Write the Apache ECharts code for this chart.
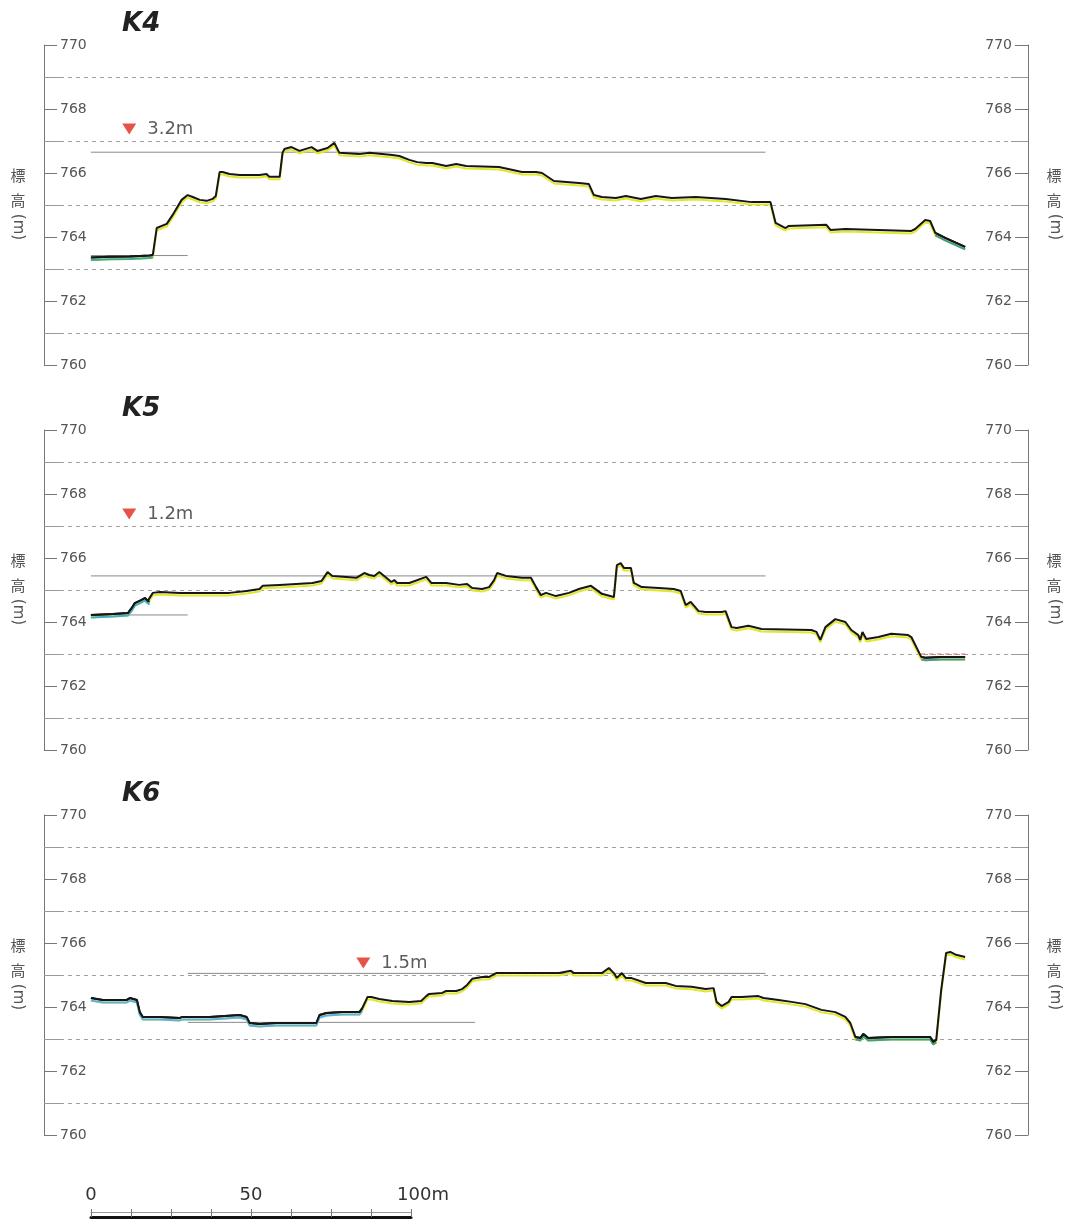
<!DOCTYPE html>
<html>
<head>
<meta charset="utf-8">
<script src="https://cdn.jsdelivr.net/npm/echarts@6/dist/echarts.min.js"></script>
<style>
  html, body { margin: 0; padding: 0; background: #fff; }
  #chart { width: 1070px; height: 1222px; }
</style>
</head>
<body>
<div id="chart"></div>
<script>
// Cross-section names, drawn top to bottom
const sections = ['K4', 'K5', 'K6'];

// Ground profiles: [distance along section (m), elevation (m)]
const profileK4 = [
  [0, 763.36], [5.9, 763.38], [12.2, 763.39], [18.4, 763.42], [19.4, 763.44], [20.6, 764.28],
  [23.75, 764.41], [25.6, 764.69], [28.4, 765.16], [30.3, 765.31], [31.9, 765.25], [34.1, 765.16],
  [36.25, 765.13], [38.1, 765.19], [39.1, 765.28], [40.3, 766.03], [41.25, 766.03], [43.4, 765.97],
  [46.6, 765.94], [52.8, 765.94], [55, 765.97], [55.9, 765.88], [59.1, 765.88], [60, 766.63],
  [60.6, 766.75], [62.8, 766.81], [65.3, 766.69], [69.1, 766.81], [70.9, 766.69], [74.1, 766.78],
  [76.25, 766.94], [77.8, 766.63], [84.1, 766.59], [87.2, 766.63], [94.4, 766.56], [96.6, 766.53],
  [99.7, 766.41], [102.2, 766.34], [105, 766.31], [106.9, 766.31], [111.25, 766.22], [114.4, 766.28],
  [117.5, 766.22], [127.8, 766.19], [135, 766.03], [139.4, 766.03], [141.25, 766.0], [145, 765.75],
  [152.8, 765.69], [155.9, 765.66], [157.5, 765.31], [160, 765.25], [164.4, 765.22], [167.5, 765.28],
  [172.2, 765.19], [176.9, 765.28], [181.9, 765.22], [189.4, 765.25], [198.75, 765.19], [206.9, 765.09],
  [212.8, 765.09], [214.4, 764.44], [217.5, 764.28], [218.4, 764.34], [230.3, 764.38], [231.6, 764.22],
  [236.25, 764.25], [246.6, 764.22], [256.9, 764.19], [258.1, 764.25], [261.25, 764.53], [262.8, 764.5],
  [264.4, 764.13], [267.5, 763.97], [273.75, 763.69]
];
const profileK5 = [
  [0, 764.22], [6.9, 764.25], [11.6, 764.28], [12.8, 764.44], [13.75, 764.59], [15.9, 764.69],
  [16.9, 764.75], [17.8, 764.66], [18.4, 764.63], [19.4, 764.91], [21.6, 764.94], [27.8, 764.91],
  [38.1, 764.91], [43.4, 764.91], [48.75, 764.97], [52.8, 765.03], [53.75, 765.13], [59.1, 765.16],
  [69.4, 765.22], [72.2, 765.28], [74.1, 765.56], [75.6, 765.44], [80, 765.41], [83.1, 765.38],
  [85.6, 765.53], [87.2, 765.47], [88.75, 765.44], [90.3, 765.56], [92.5, 765.38], [94.1, 765.25],
  [95, 765.31], [95.9, 765.22], [99.7, 765.22], [105, 765.41], [106.6, 765.22], [111.25, 765.22],
  [115.3, 765.16], [117.8, 765.19], [119.4, 765.06], [122.5, 765.03], [124.7, 765.09], [126.25, 765.31],
  [127.2, 765.53], [130, 765.44], [135, 765.38], [137.8, 765.38], [139.4, 765.09], [140.9, 764.84],
  [142.5, 764.91], [145.6, 764.81], [149.7, 764.91], [152.8, 765.03], [156.6, 765.13], [160, 764.88],
  [163.75, 764.78], [164.7, 765.78], [165.9, 765.84], [166.9, 765.69], [169.1, 765.69], [170, 765.22],
  [172.5, 765.09], [177.8, 765.06], [182.5, 765.03], [184.7, 764.97], [186.25, 764.53], [187.8, 764.63],
  [190.3, 764.34], [192.5, 764.31], [197.5, 764.31], [198.75, 764.34], [200.6, 763.84], [202.2, 763.81],
  [205.9, 763.88], [210, 763.78], [225.6, 763.75], [227.2, 763.69], [228.4, 763.44], [230, 763.84],
  [233.1, 764.09], [236.25, 764.0], [238.1, 763.75], [240.3, 763.59], [240.9, 763.44], [241.6, 763.69],
  [242.8, 763.47], [246.6, 763.53], [250.6, 763.63], [255.9, 763.59], [256.9, 763.53], [260, 762.91],
  [261.25, 762.88], [266.25, 762.91], [273.75, 762.91]
];
const profileK6 = [
  [0, 764.28], [3.75, 764.22], [11.25, 764.22], [12.2, 764.28], [14.4, 764.22], [15.3, 763.84],
  [16.25, 763.69], [21.6, 763.69], [27.8, 763.66], [28.75, 763.69], [37.2, 763.69], [46.6, 763.75],
  [48.75, 763.69], [49.7, 763.5], [52.8, 763.47], [58.1, 763.5], [63.1, 763.5], [70.6, 763.5],
  [71.6, 763.75], [73.75, 763.81], [78.75, 763.84], [84.1, 763.84], [85, 763.97], [86.6, 764.31],
  [87.8, 764.31], [90.3, 764.25], [94.4, 764.19], [99.7, 764.16], [103.4, 764.19], [105, 764.34],
  [105.9, 764.41], [110, 764.44], [111.25, 764.5], [114.4, 764.5], [116.25, 764.56], [117.8, 764.69],
  [119.4, 764.88], [122.5, 764.94], [124.7, 764.94], [126.9, 765.06], [130.9, 765.06], [136.25, 765.06],
  [146.6, 765.06], [150.3, 765.13], [151.25, 765.06], [160, 765.06], [162.2, 765.22], [163.75, 765.06],
  [164.7, 764.91], [166.25, 765.06], [167.5, 764.91], [169.1, 764.91], [173.75, 764.75], [177.8, 764.75],
  [180, 764.75], [183.1, 764.66], [188.1, 764.63], [192.5, 764.56], [195, 764.59], [195.9, 764.16],
  [197.5, 764.03], [199.7, 764.16], [200.6, 764.31], [203.75, 764.31], [209, 764.34], [210.6, 764.28],
  [215.3, 764.22], [219.4, 764.16], [223.75, 764.09], [228.75, 763.91], [233.1, 763.84], [236.25, 763.69],
  [237.8, 763.5], [239.4, 763.06], [240.9, 763.03], [241.9, 763.16], [243.4, 763.03], [250.6, 763.06],
  [255.9, 763.06], [262.8, 763.06], [263.75, 762.91], [264.7, 762.97], [266.25, 764.53], [267.8, 765.69],
  [269.1, 765.72], [270.9, 765.63], [273.75, 765.56]
];

// Stretches under water: [from (m), to (m)] and their tint
const waterK4 = [[0, 19.4], [264.4, 273.75]];
const waterK5 = [[0, 18.4], [260, 273.75]];
const waterK6 = [[0, 85], [239.4, 264.7]];
const waterTintK4 = ['#3caa94', '#3f9a88'];
const waterTintK5 = ['#3cb0c4', '#4b9a8c'];
const waterTintK6 = ['#5ab2e2', '#3fa07e'];

// Water surface shown dashed in red: [from (m), to (m), elevation (m)]
const surfaceK5 = [[260, 273.75, 763.0]];

// Reference levels (m): upper and lower, with their horizontal extents (m)
const levelsK4 = [766.65, 763.42];
const levelsK5 = [765.44, 764.22];
const levelsK6 = [765.05, 763.52];
const extentsK4 = [[0, 211.25], [0, 30.3]];
const extentsK5 = [[0, 211.25], [0, 30.3]];
const extentsK6 = [[30.3, 211.25], [30.3, 120.3]];

// Head-difference marker position: [distance (m), elevation (m)]
const markerK4 = [12.0, 767.375];
const markerK5 = [12.0, 767.375];
const markerK6 = [85.3, 765.375];

// Scale bar
const scaleBarValues = [0, 50, 100];
const scaleBarLabels = ['0', '50', '100m'];

// ---- layout ----
const ORIGIN_X = 91;          // pixel of distance 0
const PX_PER_M = 3.2;
const PLOT_LEFT = 44, PLOT_RIGHT = 1030;
const PANEL_TOPS = [45, 430, 815];
const PANEL_H = 320;
const X_MIN = (PLOT_LEFT - ORIGIN_X) / PX_PER_M;
const X_MAX = (PLOT_RIGHT - ORIGIN_X) / PX_PER_M;

const profiles = [profileK4, profileK5, profileK6];
const waters = [waterK4, waterK5, waterK6];
const waterTints = [waterTintK4, waterTintK5, waterTintK6];
const surfaces = [[], surfaceK5, []];
const levels = [levelsK4, levelsK5, levelsK6];
const extents = [extentsK4, extentsK5, extentsK6];
const markers = [markerK4, markerK5, markerK6];

const LABEL_FONT = 'DejaVu Sans';
const AXIS_GREY = '#777';

const grids = [], xAxes = [], yAxes = [], series = [], titles = [], graphics = [];

function elevAxis(i, side) {
  const left = side === 'left';
  return {
    gridIndex: i, type: 'value', position: side,
    min: 760, max: 770, interval: 2,
    axisLine: { show: true, onZero: false, lineStyle: { color: AXIS_GREY, width: 1 } },
    axisTick: { show: true, inside: true, length: 13, lineStyle: { color: AXIS_GREY } },
    minorTick: { show: true, splitNumber: 2, length: 17, lineStyle: { color: '#999' } },
    axisLabel: { inside: true, margin: 16, color: '#555', fontSize: 14, fontFamily: LABEL_FONT },
    splitLine: { show: false },
    minorSplitLine: { show: left, lineStyle: { color: '#a0a0a0', width: 1, type: [4, 4] } },
    // "(m)" set sideways beneath the upright 標高
    name: '(m)', nameLocation: 'middle', nameRotate: -90, nameGap: 19,
    nameTextStyle: { color: '#555', fontSize: 15, fontFamily: LABEL_FONT, padding: [0, 0, 0, 44] }
  };
}

sections.forEach((name, i) => {
  const top = PANEL_TOPS[i];
  grids.push({ left: PLOT_LEFT, width: PLOT_RIGHT - PLOT_LEFT, top: top, height: PANEL_H });
  xAxes.push({ gridIndex: i, type: 'value', min: X_MIN, max: X_MAX, show: false });
  yAxes.push(elevAxis(i, 'left'), elevAxis(i, 'right'));

  const base = { xAxisIndex: i, yAxisIndex: 2 * i, silent: true, animation: false };

  // reference levels
  levels[i].forEach((lvl, k) => {
    series.push(Object.assign({}, base, {
      type: 'line', symbol: 'none', z: 3,
      data: [[extents[i][k][0], lvl], [extents[i][k][1], lvl]],
      lineStyle: { color: '#8a8a8a', width: 1 }
    }));
  });

  // red dashed water surface
  surfaces[i].forEach(s => {
    series.push(Object.assign({}, base, {
      type: 'line', symbol: 'none', z: 4,
      data: [[s[0], s[2]], [s[1], s[2]]],
      lineStyle: { color: '#e05050', width: 1, type: [4, 4] }
    }));
  });

  // ground line with its yellow edge
  series.push(Object.assign({}, base, {
    type: 'line', symbol: 'none', z: 5, data: profiles[i],
    lineStyle: { color: '#161616', width: 2, shadowColor: 'rgba(226,230,30,0.95)', shadowOffsetY: 2.5, shadowBlur: 0 }
  }));

  // water stretches, tinted underneath
  waters[i].forEach((rng, k) => {
    series.push(Object.assign({}, base, {
      type: 'line', symbol: 'none', z: 6,
      data: profiles[i].filter(p => p[0] >= rng[0] && p[0] <= rng[1]),
      lineStyle: { color: '#161616', width: 2, shadowColor: waterTints[i][k], shadowOffsetY: 2.5, shadowBlur: 0 }
    }));
  });

  // head-difference marker
  const diff = (levels[i][0] - levels[i][1]).toFixed(1) + 'm';
  series.push(Object.assign({}, base, {
    type: 'scatter', symbol: 'triangle', symbolRotate: 180, symbolSize: [14, 11], z: 7,
    data: [markers[i]],
    itemStyle: { color: '#e0281c' },
    label: { show: true, position: 'right', distance: 11, formatter: diff, fontSize: 18, color: '#333', fontFamily: LABEL_FONT }
  }));

  titles.push({
    text: name, left: 122, top: top - 34, padding: 0,
    textStyle: { fontSize: 26, fontWeight: 'bold', fontStyle: 'italic', fontFamily: LABEL_FONT, color: '#222' }
  });

  // upright characters of the vertical axis name on both sides
  [18, 1054].forEach(x => {
    const txt = { fill: '#555', font: '15px "Noto Sans CJK JP"', textAlign: 'center', textVerticalAlign: 'middle', align: 'center', verticalAlign: 'middle' };
    graphics.push({ type: 'text', x: x, y: top + 130, silent: true, style: Object.assign({ text: '標' }, txt) });
    graphics.push({ type: 'text', x: x, y: top + 155, silent: true, style: Object.assign({ text: '高' }, txt) });
  });
});

// scale bar (0–100 m) on its own grid, same metres-per-pixel as the sections
grids.push({ left: ORIGIN_X, width: 100 * PX_PER_M, top: 1217, height: 1 });
xAxes.push({
  gridIndex: 3, type: 'value', position: 'top', min: 0, max: 100, interval: 12.5,
  axisLine: { show: true, onZero: false, lineStyle: { color: '#111', width: 3 } },
  axisTick: { show: true, length: 8, lineStyle: { color: '#777' } },
  splitLine: { show: false },
  axisLabel: {
    margin: 13, color: '#333', fontSize: 18, fontFamily: LABEL_FONT,
    formatter: v => {
      const k = scaleBarValues.indexOf(v);
      if (k < 0) return '';
      return k === scaleBarValues.length - 1 ? '{u|' + scaleBarLabels[k] + '}' : scaleBarLabels[k];
    },
    rich: { u: { padding: [0, 0, 0, 24], fontSize: 18, color: '#333', fontFamily: LABEL_FONT } }
  }
});
xAxes.push({
  gridIndex: 3, type: 'value', position: 'top', offset: 5, min: 0, max: 100,
  axisLine: { show: true, onZero: false, lineStyle: { color: '#999', width: 1 } },
  axisTick: { show: false }, axisLabel: { show: false }, splitLine: { show: false }
});
yAxes.push({ gridIndex: 3, type: 'value', show: false, min: 0, max: 1 });

const chart = echarts.init(document.getElementById('chart'), null, { renderer: 'canvas' });
chart.setOption({
  backgroundColor: '#fff',
  animation: false,
  title: titles,
  grid: grids,
  xAxis: xAxes,
  yAxis: yAxes,
  series: series,
  graphic: graphics
});
</script>
</body>
</html>
